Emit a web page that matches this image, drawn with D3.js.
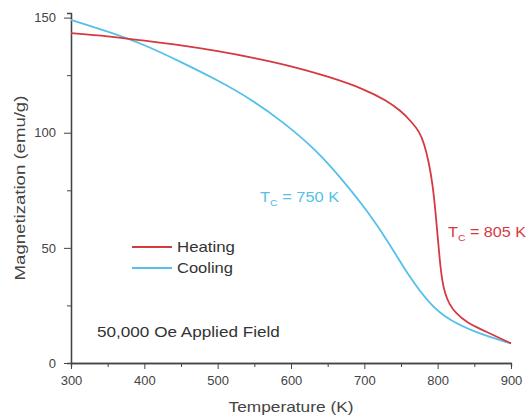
<!DOCTYPE html>
<html>
<head>
<meta charset="utf-8">
<script src="https://cdn.jsdelivr.net/npm/d3@7"></script>
<style>
  body { margin: 0; background: #fff; }
  svg { display: block; font-family: Arial, "Liberation Sans", sans-serif; }
  .axis path, .axis line { stroke: #444; }
  .axis text { fill: #444; font-size: 13px; }
</style>
</head>
<body>
<div id="chart"></div>
<script>
// heating curve [T (K), M (emu/g)]
const heating = [
  [300, 143.3], [350, 142], [400, 140], [450, 138], [500, 135.5], [550, 132.5],
  [600, 129], [650, 124.5], [700, 119], [730, 114], [750, 109.5], [765, 104.5],
  [775, 100.5], [782, 95], [788, 87], [793, 78], [797, 66], [800, 55], [803, 44],
  [806, 36], [810, 30], [816, 25.5], [825, 21.5], [840, 17.5], [860, 14.5],
  [880, 11.5], [900, 8.5]
]
// cooling curve
const cooling = [
  [300, 149], [350, 144], [400, 138.3], [450, 130.7], [500, 122.8], [545, 114.7],
  [590, 104.5], [635, 92.3], [670, 79.6], [705, 65.7], [735, 51.5], [760, 38],
  [790, 25.2], [815, 18.7], [855, 12.8], [900, 8.5]
]
const xTicks = [300, 400, 500, 600, 700, 800, 900]
const xMinor = [350, 450, 550, 650, 750, 850]
const yTicks = [0, 50, 100, 150]
const yMinor = [25, 75, 125]
const legendItems = ['Heating', 'Cooling']

const colors = { Heating: '#d43a40', Cooling: '#55c0ea' }

const width = 529
const height = 417
const margin = { top: 13, right: 18, bottom: 54, left: 71 }

const svg = d3.select('#chart')
  .append('svg')
  .attr('width', width)
  .attr('height', height)

const x = d3.scaleLinear().domain([300, 900]).range([margin.left, width - margin.right])
const y = d3.scaleLinear().domain([0, 152]).range([height - margin.bottom, margin.top])

// text in the figure is a bit wider than Arial, so stretch it to a target width
function stretchedText (px, py, str, targetWidth, opts = {}) {
  const g = svg.append('g')
  const t = g.append('text')
    .attr('fill', opts.color || '#444')
    .attr('font-size', opts.size || 14)
    .attr('text-anchor', opts.anchor || 'start')
  if (opts.build) opts.build(t)
  else t.text(str)
  const w = t.node().getBBox().width
  const sx = targetWidth / w
  g.attr('transform', `translate(${px},${py}) ${opts.rotate ? 'rotate(' + opts.rotate + ')' : ''} scale(${sx},1)`)
  return g
}

// minor ticks first, then major with labels
svg.append('g')
  .attr('class', 'axis')
  .attr('transform', `translate(0,${y(0)})`)
  .call(d3.axisBottom(x).tickValues(xMinor).tickSize(4).tickFormat(''))
svg.append('g')
  .attr('class', 'axis')
  .attr('transform', `translate(0,${y(0)})`)
  .call(d3.axisBottom(x).tickValues(xTicks).tickSize(6).tickPadding(7).tickSizeOuter(0))

svg.append('g')
  .attr('class', 'axis')
  .attr('transform', `translate(${x(300)},0)`)
  .call(d3.axisLeft(y).tickValues(yMinor).tickSize(4).tickFormat(''))
svg.append('g')
  .attr('class', 'axis')
  .attr('transform', `translate(${x(300)},0)`)
  .call(d3.axisLeft(y).tickValues(yTicks).tickSize(7).tickPadding(8).tickSizeOuter(0))

svg.selectAll('.axis .domain').attr('stroke-width', 1.3)

// axis titles
stretchedText((x(300) + x(900)) / 2, 412, 'Temperature (K)', 125, { anchor: 'middle' })
stretchedText(25, (y(0) + y(152)) / 2, 'Magnetization (emu/g)', 185, { anchor: 'middle', rotate: -90 })

const line = d3.line()
  .x(d => x(d[0]))
  .y(d => y(d[1]))
  .curve(d3.curveBasis)

svg.append('path')
  .datum(cooling)
  .attr('fill', 'none')
  .attr('stroke', colors.Cooling)
  .attr('stroke-width', 1.8)
  .attr('d', line)

svg.append('path')
  .datum(heating)
  .attr('fill', 'none')
  .attr('stroke', colors.Heating)
  .attr('stroke-width', 1.8)
  .attr('d', line)

// Tc annotations
function tcLabel (t, px, py, w, color) {
  stretchedText(px, py, null, w, {
    color,
    build: txt => {
      txt.append('tspan').text('T')
      txt.append('tspan').attr('dy', 4).attr('font-size', 9).text('C')
      txt.append('tspan').attr('dy', -4).text(` = ${t} K`)
    }
  })
}
tcLabel(750, 260, 202, 80, colors.Cooling)
tcLabel(805, 448, 237, 79, colors.Heating)

// legend
legendItems.forEach((name, i) => {
  const ly = 247 + i * 21
  svg.append('line')
    .attr('x1', 132).attr('x2', 172)
    .attr('y1', ly).attr('y2', ly)
    .attr('stroke', colors[name])
    .attr('stroke-width', 1.8)
  stretchedText(177, ly + 5, name, name === 'Heating' ? 58 : 56, { color: '#333' })
})

stretchedText(97, 337, '50,000 Oe Applied Field', 183, { color: '#333' })
</script>
</body>
</html>
